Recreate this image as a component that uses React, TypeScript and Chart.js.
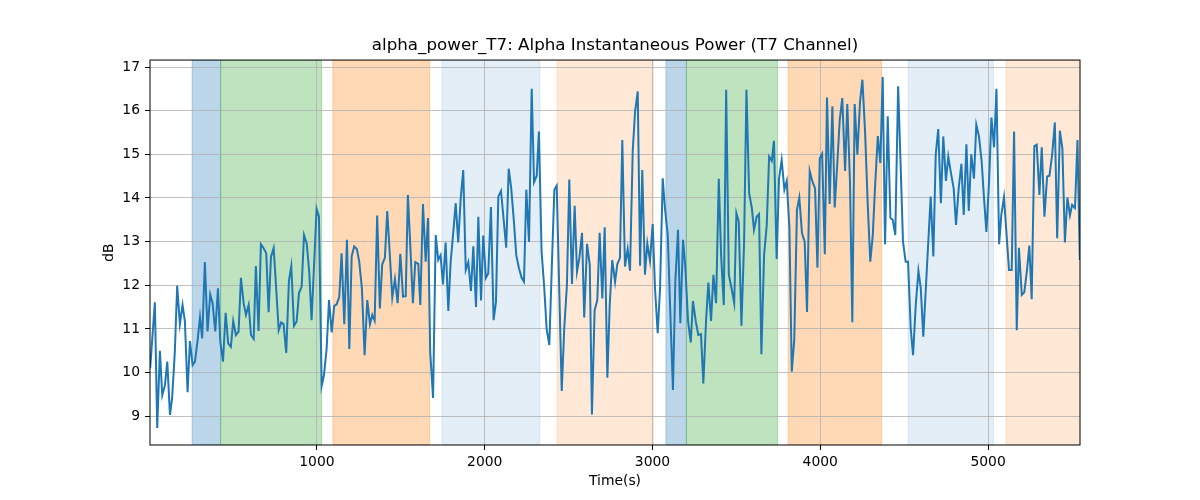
import { useEffect, useRef } from "react";
import { Chart, registerables } from "chart.js";

Chart.register(...registerables);

// sample times (s) and alpha power (dB)
const times = [
  6, 34, 48, 64, 78, 94, 108, 124, 137, 153,
  167, 183, 199, 213, 229, 243, 259, 273, 289, 303,
  316, 332, 348, 364, 378, 394, 410, 424, 440, 456,
  471, 487, 501, 517, 533, 547, 563, 577, 593, 607,
  623, 636, 652, 666, 682, 698, 712, 726, 742, 757,
  772, 787, 801, 817, 833, 847, 863, 879, 893, 909,
  923, 939, 954, 968, 998, 1012, 1028, 1042, 1058, 1072,
  1088, 1103, 1117, 1133, 1147, 1163, 1179, 1193, 1207, 1222,
  1238, 1252, 1268, 1284, 1300, 1316, 1330, 1344, 1359, 1375,
  1389, 1405, 1419, 1435, 1449, 1465, 1481, 1497, 1513, 1529,
  1542, 1559, 1572, 1586, 1604, 1616, 1632, 1648, 1662, 1675,
  1692, 1708, 1723, 1737, 1751, 1767, 1783, 1797, 1813, 1827,
  1842, 1857, 1872, 1887, 1902, 1918, 1932, 1948, 1962, 1978,
  1991, 2007, 2021, 2037, 2053, 2067, 2081, 2097, 2113, 2128,
  2143, 2158, 2174, 2188, 2204, 2220, 2234, 2248, 2264, 2280,
  2294, 2310, 2323, 2339, 2355, 2369, 2385, 2399, 2415, 2429,
  2444, 2459, 2474, 2490, 2504, 2520, 2536, 2550, 2564, 2580,
  2593, 2610, 2626, 2639, 2655, 2671, 2685, 2701, 2715, 2731,
  2745, 2760, 2777, 2790, 2806, 2820, 2836, 2852, 2866, 2882,
  2896, 2912, 2926, 2939, 2955, 2969, 2985, 3001, 3015, 3031,
  3045, 3061, 3074, 3091, 3106, 3122, 3136, 3152, 3166, 3182,
  3196, 3212, 3228, 3241, 3258, 3273, 3289, 3303, 3319, 3333,
  3349, 3363, 3379, 3395, 3409, 3425, 3439, 3455, 3471, 3487,
  3500, 3514, 3530, 3546, 3560, 3576, 3592, 3605, 3621, 3635,
  3649, 3665, 3681, 3695, 3711, 3724, 3740, 3754, 3770, 3786,
  3800, 3816, 3830, 3845, 3861, 3875, 3891, 3907, 3921, 3937,
  3953, 3969, 3983, 3997, 4011, 4027, 4040, 4056, 4072, 4086,
  4102, 4116, 4131, 4148, 4161, 4177, 4191, 4205, 4221, 4237,
  4251, 4267, 4283, 4298, 4313, 4326, 4343, 4358, 4372, 4386,
  4402, 4418, 4432, 4447, 4464, 4477, 4493, 4509, 4523, 4539,
  4553, 4569, 4585, 4599, 4614, 4658, 4674, 4688, 4703, 4719,
  4733, 4749, 4763, 4779, 4795, 4809, 4825, 4841, 4855, 4871,
  4885, 4900, 4916, 4930, 4946, 4962, 4976, 4990, 5006, 5020,
  5036, 5050, 5066, 5079, 5095, 5109, 5125, 5141, 5155, 5171,
  5184, 5201, 5216, 5231, 5246, 5260, 5276, 5290, 5306, 5320,
  5336, 5352, 5366, 5382, 5398, 5412, 5428, 5443, 5458, 5473,
  5488, 5501, 5518, 5533, 5547,
];

const alphaPower = [
  10.1, 11.61, 8.73, 10.5, 9.48, 9.71, 10.25, 9.03, 9.42, 10.48,
  11.99, 11.11, 11.55, 11.17, 9.55, 10.72, 10.17, 10.25, 10.75, 11.27,
  10.78, 12.53, 10.94, 11.79, 11.59, 10.94, 11.93, 10.71, 10.25, 11.37,
  10.67, 10.59, 11.18, 10.86, 10.94, 12.17, 11.59, 11.32, 11.55, 10.86,
  10.77, 12.44, 10.95, 12.94, 12.85, 12.73, 11.38, 12.65, 12.85, 11.93,
  10.97, 11.15, 11.11, 10.45, 12.1, 12.44, 11.07, 11.17, 11.82, 11.97,
  13.15, 12.96, 12.31, 11.2, 13.75, 13.57, 9.69, 9.94, 10.56, 11.66,
  10.92, 11.53, 11.56, 11.73, 12.73, 11.11, 13.04, 10.54, 12.66, 12.89,
  12.83, 12.54, 11.93, 10.4, 11.66, 11.11, 11.32, 11.19, 13.6, 11.47,
  12.48, 12.63, 13.7, 12.66, 11.72, 12.14, 11.59, 12.72, 11.74, 11.75,
  14.07, 12.69, 11.59, 12.53, 12.49, 11.55, 13.86, 12.54, 13.54, 10.48,
  9.42, 13.15, 12.58, 12.69, 12.02, 12.98, 11.41, 12.54, 13.23, 13.88,
  12.98, 13.99, 14.64, 12.35, 12.53, 11.87, 12.89, 11.5, 13.57, 11.65,
  13.14, 12.17, 12.27, 13.79, 11.2, 11.62, 14.03, 14.16, 13.5, 12.86,
  14.67, 14.22, 13.46, 12.69, 12.39, 12.17, 12.08, 14.19, 12.99, 16.5,
  14.36, 14.51, 15.52, 12.77, 11.93, 11.0, 10.63, 12.31, 14.19, 14.28,
  11.93, 9.58, 11.01, 12.01, 14.42, 12.03, 13.82, 12.31, 12.62, 13.2,
  11.26, 12.95, 12.47, 9.04, 11.43, 11.66, 13.2, 11.7, 13.33, 9.88,
  11.55, 12.58, 12.08, 12.48, 12.63, 15.33, 12.43, 12.83, 12.33, 15.06,
  15.98, 16.44, 12.45, 14.64, 12.24, 12.96, 12.56, 13.4, 11.93, 10.9,
  11.93, 14.45, 13.77, 13.15, 11.39, 9.6, 12.08, 13.27, 11.13, 13.04,
  12.39, 11.17, 10.69, 11.64, 11.17, 10.86, 10.88, 9.75, 11.17, 12.06,
  11.18, 12.24, 11.59, 14.44, 12.69, 11.55, 16.48, 12.24, 11.93, 11.59,
  13.65, 13.46, 11.07, 13.0, 16.48, 14.11, 13.77, 13.27, 13.57, 13.63,
  10.42, 12.69, 13.38, 14.95, 14.85, 15.31, 12.6, 14.44, 14.87, 14.19,
  14.39, 13.31, 10.02, 10.75, 13.73, 14.01, 13.19, 13.0, 11.39, 14.62,
  14.38, 14.22, 12.4, 14.91, 15.01, 12.71, 16.3, 13.86, 16.1, 13.78,
  14.83, 15.79, 16.29, 14.62, 16.15, 14.38, 11.15, 16.15, 14.99, 16.21,
  16.71, 15.52, 13.84, 12.54, 13.15, 14.22, 15.42, 14.8, 16.77, 12.94,
  15.87, 13.54, 13.5, 13.15, 16.56, 14.99, 13.0, 12.54, 12.54, 11.01,
  10.4, 11.55, 12.33, 11.93, 10.82, 14.03, 12.66, 14.99, 15.58, 13.88,
  15.41, 14.39, 14.95, 14.57, 14.22, 13.38, 14.22, 14.78, 13.61, 15.23,
  13.7, 15.0, 14.44, 15.68, 15.41, 14.83, 13.99, 13.22, 14.38, 15.84,
  15.16, 16.5, 12.94, 13.61, 14.02, 13.23, 12.35, 12.35, 15.52, 10.97,
  12.86, 11.78, 11.84, 12.31, 12.91, 11.68, 15.19, 15.22, 14.07, 15.16,
  13.57, 14.49, 14.51, 14.99, 15.73, 13.08, 15.54, 15.13, 12.98, 14.01,
  13.6, 13.84, 13.77, 15.33, 12.58,
];

// shaded intervals (s) and what kind of band each one is
const spanStarts = [256, 426, 1095, 1745, 2431, 3080, 3202, 3808, 4523, 5107];
const spanEnds = [426, 1028, 1672, 2329, 3005, 3202, 3746, 4366, 5032, 5560];
const spanKinds = ["blue", "green", "orange", "paleBlue", "paleOrange", "blue", "green", "orange", "paleBlue", "paleOrange"];

const xTicks = [1000, 2000, 3000, 4000, 5000];
const yTicks = [9, 10, 11, 12, 13, 14, 15, 16, 17];

const spanColors: Record<string, string> = {
  blue: "rgba(31,119,180,0.3)",
  green: "rgba(44,160,44,0.3)",
  orange: "rgba(255,127,14,0.3)",
  paleBlue: "rgba(31,119,180,0.12)",
  paleOrange: "rgba(255,127,14,0.17)",
};

const FONT = "'DejaVu Sans', sans-serif";

const spansPlugin = {
  id: "spans",
  beforeDraw(chart: Chart) {
    const { ctx, chartArea, scales } = chart;
    const x = scales.x;
    ctx.save();
    ctx.beginPath();
    ctx.rect(chartArea.left, chartArea.top, chartArea.right - chartArea.left, chartArea.bottom - chartArea.top);
    ctx.clip();
    spanStarts.forEach((s, i) => {
      const x0 = x.getPixelForValue(s);
      const x1 = x.getPixelForValue(spanEnds[i]);
      ctx.fillStyle = spanColors[spanKinds[i]];
      ctx.strokeStyle = spanColors[spanKinds[i]];
      ctx.lineWidth = 1;
      ctx.fillRect(x0, chartArea.top, x1 - x0, chartArea.bottom - chartArea.top);
      ctx.strokeRect(x0, chartArea.top, x1 - x0, chartArea.bottom - chartArea.top);
    });
    ctx.restore();
  },
};

const framePlugin = {
  id: "frame",
  afterDatasetsDraw(chart: Chart) {
    const { ctx, chartArea } = chart;
    ctx.save();
    ctx.strokeStyle = "#000";
    ctx.lineWidth = 1;
    ctx.strokeRect(chartArea.left, chartArea.top, chartArea.right - chartArea.left, chartArea.bottom - chartArea.top);
    ctx.restore();
  },
};

export default function App() {
  const canvasRef = useRef<HTMLCanvasElement>(null);
  const chartRef = useRef<Chart | null>(null);

  useEffect(() => {
    if (!canvasRef.current) return;
    if (chartRef.current) chartRef.current.destroy();

    Chart.defaults.color = "#000";
    Chart.defaults.font.family = FONT;

    chartRef.current = new Chart(canvasRef.current, {
      type: "line",
      data: {
        datasets: [
          {
            data: times.map((t, i) => ({ x: t, y: alphaPower[i] })),
            borderColor: "#1f77b4",
            borderWidth: 2,
            pointRadius: 0,
            tension: 0,
            fill: false,
          },
        ],
      },
      options: {
        animation: false,
        responsive: true,
        maintainAspectRatio: false,
        layout: { padding: { left: 0, right: 120, top: 0, bottom: 0 } },
        plugins: {
          legend: { display: false },
          tooltip: { enabled: false },
          title: {
            display: true,
            fullSize: false,
            text: "alpha_power_T7: Alpha Instantaneous Power (T7 Channel)",
            font: { size: 16.7, weight: "normal", family: FONT },
            color: "#000",
            padding: { top: 36, bottom: 4 },
          },
        },
        scales: {
          x: {
            type: "linear",
            min: 5,
            max: 5548,
            afterBuildTicks: (scale: any) => {
              scale.ticks = xTicks.map((v) => ({ value: v }));
            },
            afterFit: (scale: any) => {
              scale.height = 55;
            },
            ticks: {
              font: { size: 13.9, family: FONT },
              color: "#000",
              padding: 4,
              maxRotation: 0,
              callback: (v: any) => String(v),
            },
            grid: { color: "#b0b0b0", lineWidth: 0.8, tickLength: 5, tickColor: "#000", tickWidth: 1 },
            border: { display: false },
            title: {
              display: true,
              text: "Time(s)",
              font: { size: 13.9, family: FONT },
              color: "#000",
              padding: { top: 0, bottom: 10 },
            },
          },
          y: {
            type: "linear",
            min: 8.34,
            max: 17.16,
            afterBuildTicks: (scale: any) => {
              scale.ticks = yTicks.map((v) => ({ value: v }));
            },
            afterFit: (scale: any) => {
              scale.width = 150;
            },
            ticks: {
              font: { size: 13.9, family: FONT },
              color: "#000",
              padding: 5,
              callback: (v: any) => String(v),
            },
            grid: { color: "#b0b0b0", lineWidth: 0.8, tickLength: 5, tickColor: "#000", tickWidth: 1 },
            border: { display: false },
            title: {
              display: true,
              text: "dB",
              font: { size: 13.9, family: FONT },
              color: "#000",
              padding: { top: 101, bottom: 0 },
            },
          },
        },
      },
      plugins: [spansPlugin, framePlugin],
    });

    return () => {
      if (chartRef.current) {
        chartRef.current.destroy();
        chartRef.current = null;
      }
    };
  }, []);

  return (
    <div style={{ position: "absolute", left: 0, top: 0, width: 1200, height: 500, background: "#fff" }}>
      <canvas ref={canvasRef} />
    </div>
  );
}
